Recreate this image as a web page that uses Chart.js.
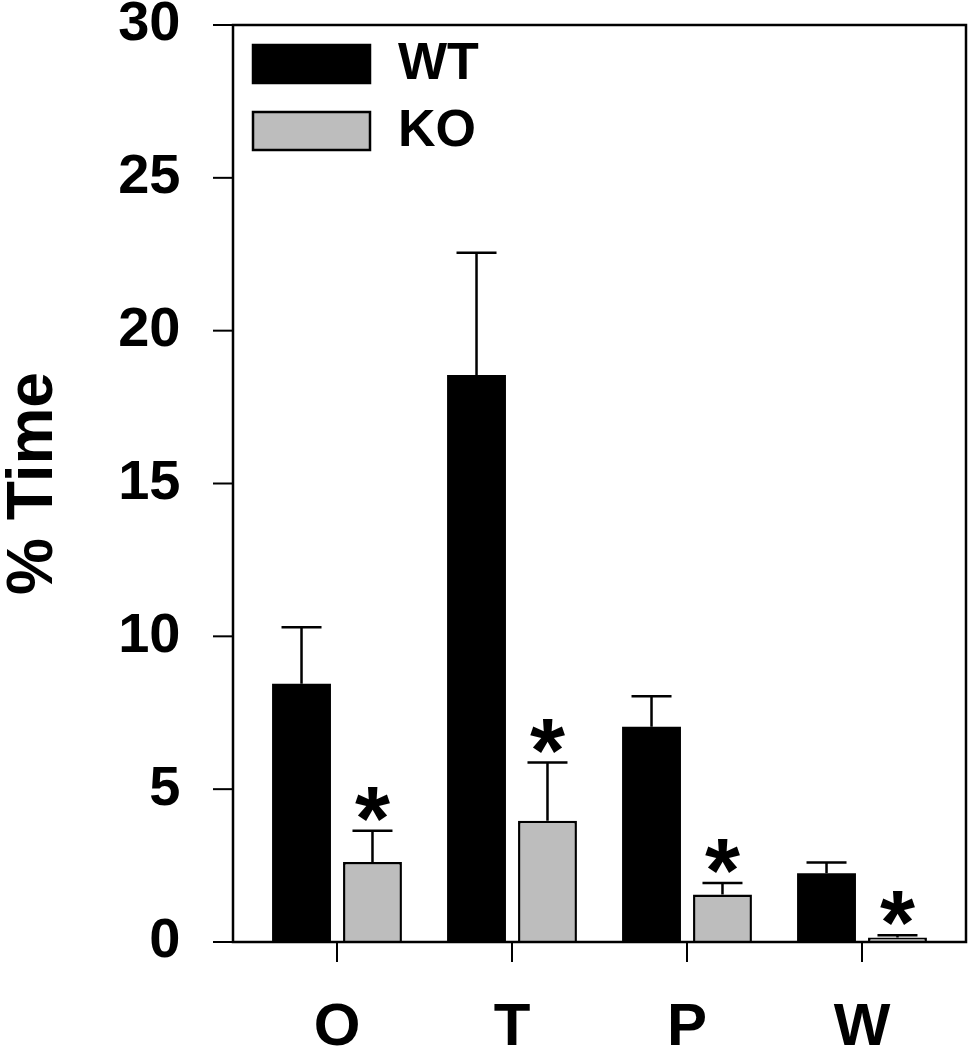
<!DOCTYPE html>
<html>
<head>
<meta charset="utf-8">
<script src="https://cdn.jsdelivr.net/npm/chart.js@4.4.1/dist/chart.umd.min.js"></script>
<style>
  html, body { margin: 0; padding: 0; background: #fff; }
  #wrap { width: 970px; height: 1050px; }
</style>
</head>
<body>
<div id="wrap"><canvas id="timeChart" width="970" height="1050"></canvas></div>
<script>
const categories = ['O', 'T', 'P', 'W'];
const wtValues = [8.45, 18.55, 7.04, 2.25];
const wtErrors = [1.85, 4.0, 1.0, 0.35];
const koValues = [2.62, 3.97, 1.55, 0.15];
const koErrors = [1.02, 1.9, 0.38, 0.07];
const koSignificant = [true, true, true, true];
const yTicks = [0, 5, 10, 15, 20, 25, 30];

const FONT = '"Liberation Sans", Arial, Helvetica, sans-serif';
const FRAME_PAD = 16.5; // frame sits a bit outside the category area

// frame, outward tick marks, error bars, asterisks and the legend
const decorPlugin = {
    id: 'decor',
    afterDatasetsDraw(chart) {
        const ctx = chart.ctx;
        const area = chart.chartArea;
        const yScale = chart.scales.y;
        const xScale = chart.scales.x;
        const left = area.left - FRAME_PAD;
        const right = area.right + FRAME_PAD;

        ctx.save();
        ctx.strokeStyle = '#000';
        ctx.lineCap = 'butt';

        // error bars (upper only)
        ctx.lineWidth = 2.5;
        const errs = [wtErrors, koErrors];
        chart.data.datasets.forEach((ds, di) => {
            const meta = chart.getDatasetMeta(di);
            meta.data.forEach((bar, i) => {
                const topY = yScale.getPixelForValue(ds.data[i] + errs[di][i]);
                ctx.beginPath();
                ctx.moveTo(bar.x, bar.y);
                ctx.lineTo(bar.x, topY);
                ctx.moveTo(bar.x - 20, topY);
                ctx.lineTo(bar.x + 20, topY);
                ctx.stroke();
            });
        });

        // significance asterisks over KO
        ctx.fillStyle = '#000';
        ctx.font = 'bold 90px ' + FONT;
        ctx.textAlign = 'center';
        ctx.textBaseline = 'alphabetic';
        const koMeta = chart.getDatasetMeta(1);
        koMeta.data.forEach((bar, i) => {
            if (!koSignificant[i]) return;
            const topY = yScale.getPixelForValue(koValues[i] + koErrors[i]);
            ctx.fillText('*', bar.x, topY + 19);
        });

        // frame
        ctx.lineWidth = 2.5;
        ctx.strokeRect(left, area.top, right - left, area.bottom - area.top);

        // y tick marks (outside)
        ctx.lineWidth = 2;
        yTicks.forEach(v => {
            const y = yScale.getPixelForValue(v);
            ctx.beginPath();
            ctx.moveTo(left, y);
            ctx.lineTo(left - 20, y);
            ctx.stroke();
        });
        // x tick marks (outside)
        categories.forEach((c, i) => {
            const x = xScale.getPixelForValue(i);
            ctx.beginPath();
            ctx.moveTo(x, area.bottom);
            ctx.lineTo(x, area.bottom + 20);
            ctx.stroke();
        });

        // legend, top-left inside the frame
        ctx.font = 'bold 52px ' + FONT;
        ctx.textAlign = 'left';
        ctx.textBaseline = 'middle';
        chart.data.datasets.forEach((ds, di) => {
            const bx = left + 20;
            const by = area.top + 20 + di * 67;
            ctx.fillStyle = ds.backgroundColor;
            ctx.fillRect(bx, by, 117, 38);
            ctx.lineWidth = 2.5;
            ctx.strokeStyle = '#000';
            ctx.strokeRect(bx, by, 117, 38);
            ctx.fillStyle = '#000';
            ctx.fillText(ds.label, bx + 145, by + 20);
        });
        ctx.restore();
    }
};

const ctx = document.getElementById('timeChart').getContext('2d');
new Chart(ctx, {
    type: 'bar',
    data: {
        labels: categories,
        datasets: [
            {
                label: 'WT',
                data: wtValues,
                backgroundColor: '#000000',
                borderColor: '#000000',
                borderWidth: 0
            },
            {
                label: 'KO',
                data: koValues,
                backgroundColor: '#bdbdbd',
                borderColor: '#000000',
                borderWidth: 2.5
            }
        ]
    },
    options: {
        responsive: false,
        animation: false,
        categoryPercentage: 0.811,
        barPercentage: 0.83,
        layout: { padding: { top: 25, right: 20.5, left: 0, bottom: 0 } },
        plugins: {
            legend: { display: false },
            tooltip: { enabled: false }
        },
        scales: {
            x: {
                grid: { display: false, drawTicks: false },
                border: { display: false },
                ticks: {
                    color: '#000',
                    padding: 50,
                    font: { family: FONT, size: 60, weight: 'bold' }
                },
                afterFit(scale) { scale.height = 108; }
            },
            y: {
                min: 0,
                max: 30,
                // invisible tick marks only push the labels away from the axis
                grid: {
                    display: true,
                    drawOnChartArea: false,
                    drawTicks: true,
                    tickLength: 69,
                    color: 'rgba(0,0,0,0)'
                },
                border: { display: false },
                ticks: {
                    stepSize: 5,
                    color: '#000',
                    padding: 0,
                    font: { family: FONT, size: 56, weight: 'bold', lineHeight: 0.89 }
                },
                title: {
                    display: true,
                    text: '% Time',
                    color: '#000',
                    padding: { top: -4, bottom: 0 },
                    font: { family: FONT, size: 64, weight: 'bold' }
                },
                afterFit(scale) { scale.width = 249.5; }
            }
        }
    },
    plugins: [decorPlugin]
});
</script>
</body>
</html>
